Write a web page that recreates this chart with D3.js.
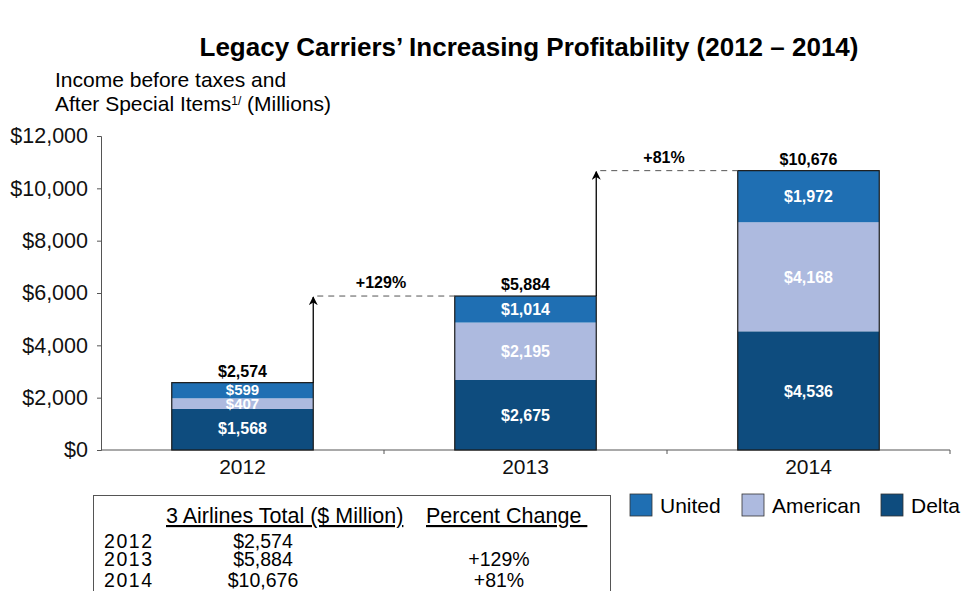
<!DOCTYPE html>
<html lang="en">
  <head>
    <meta charset="utf-8" />
    <style type="text/css">
      body {
        margin: 0;
        background: #fff;
        font-family: "Liberation Sans", Arial, Helvetica, sans-serif;
      }
      svg text {
        font-family: "Liberation Sans", Arial, Helvetica, sans-serif;
      }
    </style>
  </head>
  <body>
    <svg width="964" height="591"></svg>

    <script src="https://d3js.org/d3.v7.min.js"></script>
    <script type="text/javascript">
      // data
      var years = ["2012", "2013", "2014"];
      var airlines = ["Delta", "American", "United"];
      var united = [599, 1014, 1972];
      var american = [407, 2195, 4168];
      var delta = [1568, 2675, 4536];
      var totals = [2574, 5884, 10676];
      var pctChange = ["", "+129%", "+81%"];
      var yTicks = [0, 2000, 4000, 6000, 8000, 10000, 12000];
      var legendOrder = ["United", "American", "Delta"];

      var colors = {
        United: "#1f6fb3",
        American: "#adbadf",
        Delta: "#0e4c7e",
      };

      var svg = d3.select("svg");

      var x = d3
        .scaleBand()
        .domain(years)
        .range([101, 950])
        .paddingInner(0.5)
        .paddingOuter(0.25);
      var xBand = d3.scaleBand().domain(years).range([101, 950]);
      var y = d3.scaleLinear().domain([0, 12000]).range([450, 136]);

      var fmt = d3.format(",");

      // title
      svg
        .append("text")
        .attr("x", 529)
        .attr("y", 56)
        .attr("text-anchor", "middle")
        .attr("font-size", 26)
        .attr("font-weight", "bold")
        .text("Legacy Carriers\u2019 Increasing Profitability (2012 \u2013 2014)");

      // y axis title
      svg
        .append("text")
        .attr("x", 55)
        .attr("y", 87)
        .attr("font-size", 21)
        .text("Income before taxes and");
      var t2 = svg
        .append("text")
        .attr("x", 55)
        .attr("y", 111)
        .attr("font-size", 21);
      t2.append("tspan").text("After Special Items");
      t2.append("tspan").attr("font-size", 12).attr("dy", -6).text("1/");
      t2.append("tspan").attr("dy", 6).text(" (Millions)");

      // y axis
      var yAxis = svg
        .append("g")
        .attr("transform", "translate(101,0)")
        .call(
          d3
            .axisLeft(y)
            .tickValues(yTicks)
            .tickSize(4)
            .tickPadding(9)
            .tickFormat(function (d) {
              return "$" + fmt(d);
            })
        );
      yAxis.select(".domain").attr("stroke", "#555");
      yAxis.selectAll(".tick line").attr("stroke", "#555");
      yAxis
        .selectAll(".tick text")
        .attr("font-size", 21.5)
        .attr("fill", "#111")
        .attr("font-family", "Liberation Sans, Arial, sans-serif");

      // x axis
      var xAxisG = svg.append("g").attr("transform", "translate(0,450)");
      xAxisG
        .append("line")
        .attr("x1", 101)
        .attr("x2", 950)
        .attr("stroke", "#555");
      xAxisG
        .selectAll(".xt")
        .data(years)
        .enter()
        .append("line")
        .attr("x1", function (d) {
          return xBand(d) + xBand.bandwidth();
        })
        .attr("x2", function (d) {
          return xBand(d) + xBand.bandwidth();
        })
        .attr("y1", 0)
        .attr("y2", 4)
        .attr("stroke", "#555");
      xAxisG
        .selectAll(".xl")
        .data(years)
        .enter()
        .append("text")
        .attr("x", function (d) {
          return x(d) + x.bandwidth() / 2;
        })
        .attr("y", 24)
        .attr("text-anchor", "middle")
        .attr("font-size", 21)
        .attr("fill", "#111")
        .text(function (d) {
          return d;
        });

      // stacked bars
      var rows = years.map(function (yr, i) {
        return { year: yr, Delta: delta[i], American: american[i], United: united[i] };
      });
      var series = d3.stack().keys(airlines)(rows);

      var layer = svg
        .selectAll(".layer")
        .data(series)
        .enter()
        .append("g")
        .attr("class", "layer");

      layer
        .selectAll("rect")
        .data(function (s) {
          return s.map(function (p) {
            return { key: s.key, p: p };
          });
        })
        .enter()
        .append("rect")
        .attr("x", function (d) {
          return x(d.p.data.year);
        })
        .attr("y", function (d) {
          return y(d.p[1]);
        })
        .attr("width", x.bandwidth())
        .attr("height", function (d) {
          return y(d.p[0]) - y(d.p[1]);
        })
        .attr("fill", function (d) {
          return colors[d.key];
        });

      // outline of each whole bar
      svg
        .selectAll(".outline")
        .data(years)
        .enter()
        .append("rect")
        .attr("x", function (d) {
          return x(d);
        })
        .attr("y", function (d, i) {
          return y(totals[i]);
        })
        .attr("width", x.bandwidth())
        .attr("height", function (d, i) {
          return y(0) - y(totals[i]);
        })
        .attr("fill", "none")
        .attr("stroke", "#1a1a1a")
        .attr("stroke-width", 1.2);

      // segment labels (the two thin 2012 slices get smaller text so they fit)
      layer
        .selectAll(".seg")
        .data(function (s) {
          return s.map(function (p) {
            return { key: s.key, p: p };
          });
        })
        .enter()
        .append("text")
        .attr("x", function (d) {
          return x(d.p.data.year) + x.bandwidth() / 2;
        })
        .attr("y", function (d) {
          var mid = (y(d.p[0]) + y(d.p[1])) / 2;
          if (d.p.data.year == "2012" && d.key == "Delta") mid -= 1;
          if (d.p.data.year == "2012" && d.key != "Delta") return mid + 5;
          return mid + 6;
        })
        .attr("text-anchor", "middle")
        .attr("font-size", function (d) {
          return d.p.data.year == "2012" && d.key != "Delta" ? 15 : 16;
        })
        .attr("font-weight", "bold")
        .attr("fill", "#fff")
        .text(function (d) {
          return "$" + fmt(d.p[1] - d.p[0]);
        });

      // totals above bars
      svg
        .selectAll(".tot")
        .data(years)
        .enter()
        .append("text")
        .attr("x", function (d) {
          return x(d) + x.bandwidth() / 2;
        })
        .attr("y", function (d, i) {
          return y(totals[i]) - 6;
        })
        .attr("text-anchor", "middle")
        .attr("font-size", 16)
        .attr("font-weight", "bold")
        .text(function (d, i) {
          return "$" + fmt(totals[i]);
        });

      // growth arrows with dashed connectors
      svg
        .append("defs")
        .append("marker")
        .attr("id", "arrow")
        .attr("viewBox", "0 0 10 10")
        .attr("refX", 9)
        .attr("refY", 5)
        .attr("markerWidth", 7)
        .attr("markerHeight", 7)
        .attr("orient", "auto")
        .append("path")
        .attr("d", "M0,0 L10,5 L0,10 L3,5 Z")
        .attr("fill", "#000");

      for (var i = 1; i < years.length; i++) {
        var ax = x(years[i - 1]) + x.bandwidth();
        svg
          .append("line")
          .attr("x1", ax)
          .attr("x2", ax)
          .attr("y1", y(totals[i - 1]))
          .attr("y2", y(totals[i]) + 1)
          .attr("stroke", "#000")
          .attr("stroke-width", 1.3)
          .attr("marker-end", "url(#arrow)");
        svg
          .append("line")
          .attr("x1", ax + 4)
          .attr("x2", x(years[i]))
          .attr("y1", y(totals[i]))
          .attr("y2", y(totals[i]))
          .attr("stroke", "#555")
          .attr("stroke-width", 1)
          .attr("stroke-dasharray", "6,5");
        svg
          .append("text")
          .attr("x", (ax + x(years[i])) / 2 - 3)
          .attr("y", y(totals[i]) - 8)
          .attr("text-anchor", "middle")
          .attr("font-size", 16)
          .attr("font-weight", "bold")
          .text(pctChange[i]);
      }

      // legend
      var legend = svg
        .selectAll(".leg")
        .data(legendOrder)
        .enter()
        .append("g")
        .attr("transform", function (d, i) {
          return "translate(" + [630, 742, 881][i] + ",494)";
        });
      legend
        .append("rect")
        .attr("width", 22)
        .attr("height", 22)
        .attr("fill", function (d) {
          return colors[d];
        })
        .attr("stroke", "#333")
        .attr("stroke-width", 0.8);
      legend
        .append("text")
        .attr("x", 30)
        .attr("y", 19)
        .attr("font-size", 21)
        .text(function (d) {
          return d;
        });

      // summary table
      svg
        .append("rect")
        .attr("x", 93.5)
        .attr("y", 495.5)
        .attr("width", 517)
        .attr("height", 110)
        .attr("fill", "none")
        .attr("stroke", "#555")
        .attr("stroke-width", 1);

      svg
        .append("text")
        .attr("x", 166)
        .attr("y", 523)
        .attr("font-size", 21.5)
        .attr("text-decoration", "underline")
        .text("3 Airlines Total ($ Million)");
      svg
        .append("text")
        .attr("x", 426)
        .attr("y", 523)
        .attr("font-size", 21.5)
        .attr("text-decoration", "underline")
        .style("white-space", "pre")
        .text("Percent Change ");

      var rowY = [548, 566, 587];
      years.forEach(function (yr, i) {
        svg
          .append("text")
          .attr("x", 104)
          .attr("y", rowY[i])
          .attr("font-size", 19.5)
          .attr("textLength", 48)
          .text(yr);
        svg
          .append("text")
          .attr("x", 263)
          .attr("y", rowY[i])
          .attr("text-anchor", "middle")
          .attr("font-size", 19.5)
          .text("$" + fmt(totals[i]));
        if (pctChange[i]) {
          svg
            .append("text")
            .attr("x", 499)
            .attr("y", rowY[i])
            .attr("text-anchor", "middle")
            .attr("font-size", 19.5)
            .text(pctChange[i]);
        }
      });
    </script>
  </body>
</html>
